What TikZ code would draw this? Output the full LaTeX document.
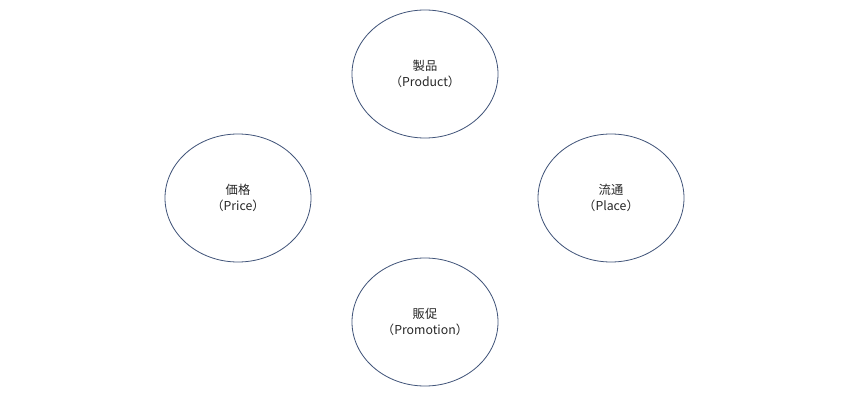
\documentclass[tikz,border=0pt]{standalone}
\usepackage{fontspec}
\setmainfont{Noto Sans CJK JP}
\usepackage{tikz}
\usetikzlibrary{positioning, shapes.geometric}
\definecolor{mxLine}{HTML}{42557A}
\definecolor{mxInk}{HTML}{262626}

\begin{document}
\begin{tikzpicture}[
    x=0.03cm, y=-0.03cm,
    pbox/.style={draw=mxLine, ellipse, line width=0.7pt, minimum width=4.38cm, minimum height=3.84cm,
                 inner sep=0pt, align=center, text=mxInk, font=\fontsize{10.5}{13.5}\selectfont},
]
% --- canvas ---
\useasboundingbox (0,0) rectangle (850,400);

% --- four P ---
\node[pbox] (product) at (425,74) {製品\\（Product）};
\node[pbox] (price) at (238,198) {価格\\（Price）};
\node[pbox] (place) at (611,198) {流通\\（Place）};
\node[pbox] (promo) at (425,322) {販促\\（Promotion）};

\end{tikzpicture}
\end{document}
